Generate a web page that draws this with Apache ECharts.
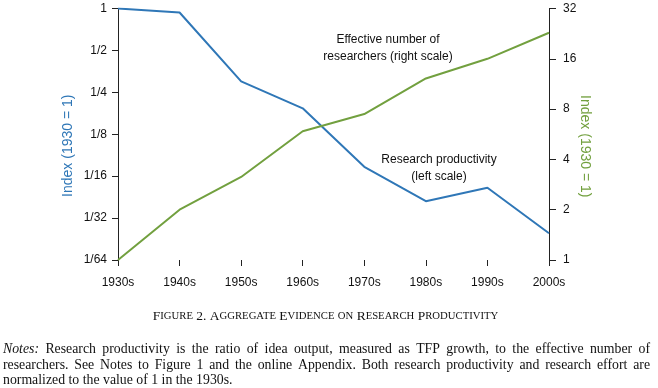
<!DOCTYPE html>
<html><head><meta charset="utf-8">
<script src="https://cdn.jsdelivr.net/npm/echarts@6/dist/echarts.min.js"></script>
<style>html,body{margin:0;padding:0;background:#fff}#c{width:658px;height:388px}</style>
</head><body><div id="c"></div>
<script>
const categories = ['1930s','1940s','1950s','1960s','1970s','1980s','1990s','2000s'];
const productivity = [1, 0.936, 0.30, 0.192, 0.073, 0.0413, 0.0516, 0.0243];
const researchers = [1, 2.0, 3.14, 5.9, 7.47, 12.2, 16, 22.9];
const leftTickLabels = ['1/64','1/32','1/16','1/8','1/4','1/2','1'];
const rightTickLabels = ['1','2','4','8','16','32'];
const axisTitle = 'Index (1930 = 1)';
const noteLines = [
  'Notes: Research productivity is the ratio of idea output, measured as TFP growth, to the effective number of',
  'researchers. See Notes to Figure 1 and the online Appendix. Both research productivity and research effort are',
  'normalized to the value of 1 in the 1930s.'
];

const BLUE = '#2f77b7', GREEN = '#72a03f';
const SANS = 'Liberation Sans, Arial, Helvetica, sans-serif';
const SERIF = 'Liberation Serif, Times New Roman, serif';

const chart = echarts.init(document.getElementById('c'), null, {renderer: 'canvas'});

// measure for justification
const cv = document.createElement('canvas').getContext('2d');
function measure(t, font) { cv.font = font; return cv.measureText(t).width; }
const NOTE_SIZE = 13.8;
function noteElems(line, y, x0, x1, justify) {
  const words = line.split(' ');
  const out = [];
  const fonts = words.map((w, i) => (i === 0 && w === 'Notes:') ? 'italic ' + NOTE_SIZE + 'px ' + SERIF : NOTE_SIZE + 'px ' + SERIF);
  const widths = words.map((w, i) => measure(w, fonts[i]));
  const total = widths.reduce((a, b) => a + b, 0);
  const spaceW = justify ? (x1 - x0 - total) / (words.length - 1) : measure(' ', NOTE_SIZE + 'px ' + SERIF);
  let x = x0;
  words.forEach((w, i) => {
    out.push({type: 'text', x: x, y: y, style: {text: w, font: fonts[i], fill: '#111', textVerticalAlign: 'middle'}});
    x += widths[i] + spaceW;
  });
  return out;
}

// small caps caption
function smallCaps(str) {
  let parts = [];
  let cur = '', curBig = null;
  for (const ch of str) {
    const big = !(ch >= 'a' && ch <= 'z');
    if (curBig === null) curBig = big;
    if (big !== curBig) { parts.push({t: cur, big: curBig}); cur = ''; curBig = big; }
    cur += big ? ch : ch.toUpperCase();
  }
  parts.push({t: cur, big: curBig});
  return parts.map(p => '{' + (p.big ? 'b' : 's') + '|' + p.t + '}').join('');
}
const caption = 'Figure 2. Aggregate Evidence on Research Productivity';

const graphics = [
  {type: 'text', x: 388, y: 40, style: {text: 'Effective number of', font: '12px ' + SANS, fill: '#111', textAlign: 'center', textVerticalAlign: 'middle'}},
  {type: 'text', x: 388, y: 57, style: {text: 'researchers (right scale)', font: '12px ' + SANS, fill: '#111', textAlign: 'center', textVerticalAlign: 'middle'}},
  {type: 'text', x: 439, y: 160, style: {text: 'Research productivity', font: '12px ' + SANS, fill: '#111', textAlign: 'center', textVerticalAlign: 'middle'}},
  {type: 'text', x: 439, y: 177, style: {text: '(left scale)', font: '12px ' + SANS, fill: '#111', textAlign: 'center', textVerticalAlign: 'middle'}},
  {type: 'text', x: 325.5, y: 316, style: {
    text: smallCaps(caption), textAlign: 'center', textVerticalAlign: 'middle', fill: '#111',
    rich: {b: {fontFamily: SERIF, fontSize: 13.5, fill: '#111'}, s: {fontFamily: SERIF, fontSize: 10.7, fill: '#111'}}
  }}
].concat(noteElems(noteLines[0], 349, 3, 650, true))
 .concat(noteElems(noteLines[1], 365, 3, 650, true))
 .concat(noteElems(noteLines[2], 380, 3, 650, false));

function fracLabel(v) {
  if (v >= 1) return String(Math.round(v));
  return '1/' + Math.round(1 / v);
}

chart.setOption({
  animation: false,
  backgroundColor: '#fff',
  grid: {left: 118, right: 109, top: 8.5, bottom: 128, containLabel: false},
  xAxis: {
    type: 'category', data: categories, boundaryGap: false,
    axisLine: {show: false},
    axisTick: {show: true, length: 6, lineStyle: {color: '#222', width: 1}},
    axisLabel: {color: '#111', fontFamily: SANS, fontSize: 12, margin: 10, padding: [7, 0, 0, 0]}
  },
  yAxis: [
    {
      type: 'log', logBase: 2, min: 1 / 64, max: 1, splitNumber: 6,
      name: axisTitle, nameLocation: 'middle', nameRotate: 90, nameGap: 43, nameMoveOverlap: false,
      nameTextStyle: {color: BLUE, fontFamily: SANS, fontSize: 14, padding: [0, 23, 0, 0]},
      axisLine: {show: true, lineStyle: {color: '#222'}},
      axisTick: {show: true, length: 6, lineStyle: {color: '#222', width: 1}},
      splitLine: {show: false},
      axisLabel: {color: '#111', fontFamily: SANS, fontSize: 12, margin: 9, padding: [0, 2, 0, 0],
        formatter: v => { const i = Math.round(Math.log2(v)) + 6; return leftTickLabels[i] !== undefined ? leftTickLabels[i] : fracLabel(v); }}
    },
    {
      type: 'log', logBase: 2, min: 1, max: 32, splitNumber: 5, position: 'right',
      name: axisTitle, nameLocation: 'middle', nameRotate: -90, nameGap: 29, nameMoveOverlap: false,
      nameTextStyle: {color: GREEN, fontFamily: SANS, fontSize: 14, padding: [0, 0, 0, 24]},
      axisLine: {show: true, lineStyle: {color: '#222'}},
      axisTick: {show: true, length: 7, lineStyle: {color: '#222', width: 1}},
      splitLine: {show: false},
      axisLabel: {color: '#111', fontFamily: SANS, fontSize: 12, margin: 8, padding: [0, 0, 0, 6],
        formatter: v => { const i = Math.round(Math.log2(v)); return rightTickLabels[i] !== undefined ? rightTickLabels[i] : String(v); }}
    }
  ],
  series: [
    {type: 'line', name: 'Research productivity', data: productivity, yAxisIndex: 0, symbol: 'none',
     lineStyle: {color: BLUE, width: 2}, itemStyle: {color: BLUE}},
    {type: 'line', name: 'Effective number of researchers', data: researchers, yAxisIndex: 1, symbol: 'none',
     lineStyle: {color: GREEN, width: 2}, itemStyle: {color: GREEN}}
  ],
  graphic: graphics
});
</script></body></html>
